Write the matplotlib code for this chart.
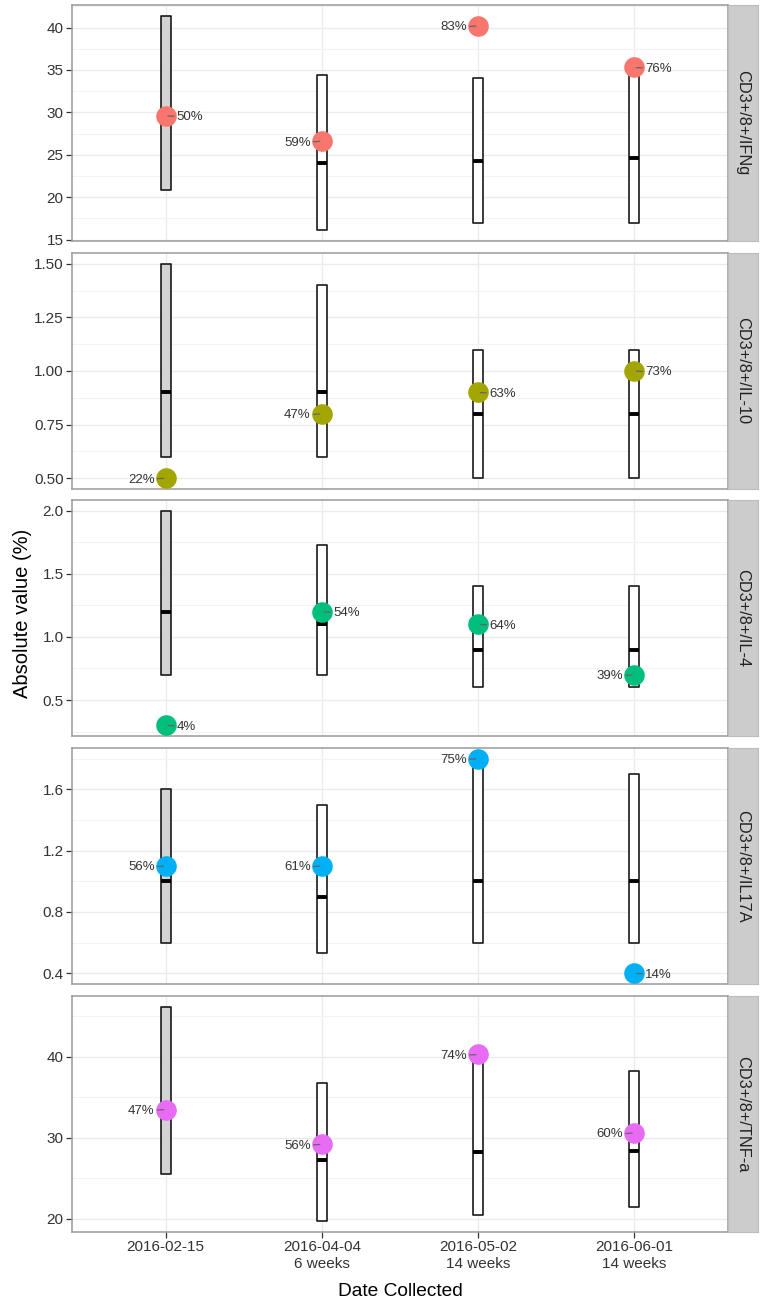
import matplotlib
matplotlib.use("Agg")
import matplotlib.pyplot as plt
from matplotlib.patches import Rectangle
from matplotlib.ticker import MultipleLocator, FormatStrFormatter
import numpy as np

plt.rcParams['font.family'] = ['Liberation Sans', 'DejaVu Sans']

# ---------------- data ----------------
dates = ["2016-02-15", "2016-04-04\n6 weeks", "2016-05-02\n14 weeks", "2016-06-01\n14 weeks"]
markers = ["CD3+/8+/IFNg", "CD3+/8+/IL-10", "CD3+/8+/IL-4", "CD3+/8+/IL17A", "CD3+/8+/TNF-a"]

ifng_low = [20.9, 16.1, 17.0, 17.0]
ifng_high = [41.4, 34.4, 34.1, 35.0]
ifng_med = [29.6, 24.0, 24.3, 24.6]
ifng_val = [29.6, 26.6, 40.2, 35.3]
ifng_pct = ["50%", "59%", "83%", "76%"]

il10_low = [0.6, 0.6, 0.5, 0.5]
il10_high = [1.5, 1.4, 1.1, 1.1]
il10_med = [0.9, 0.9, 0.8, 0.8]
il10_val = [0.5, 0.8, 0.9, 1.0]
il10_pct = ["22%", "47%", "63%", "73%"]

il4_low = [0.7, 0.7, 0.6, 0.6]
il4_high = [2.0, 1.73, 1.4, 1.4]
il4_med = [1.2, 1.1, 0.9, 0.9]
il4_val = [0.3, 1.2, 1.1, 0.7]
il4_pct = ["4%", "54%", "64%", "39%"]

il17_low = [0.6, 0.53, 0.6, 0.6]
il17_high = [1.6, 1.5, 1.79, 1.7]
il17_med = [1.0, 0.9, 1.0, 1.0]
il17_val = [1.1, 1.1, 1.8, 0.4]
il17_pct = ["56%", "61%", "75%", "14%"]

tnf_low = [25.6, 19.7, 20.5, 21.5]
tnf_high = [46.2, 36.8, 41.1, 38.2]
tnf_med = [33.5, 27.3, 28.2, 28.4]
tnf_val = [33.5, 29.2, 40.3, 30.6]
tnf_pct = ["47%", "56%", "74%", "60%"]

# ---------------- layout / style ----------------
colors = ["#F8766D", "#A3A500", "#00BF7D", "#00B0F6", "#E76BF3"]
label_side = [
    ["r", "l", "l", "r"],
    ["l", "l", "r", "r"],
    ["r", "r", "r", "l"],
    ["l", "l", "l", "r"],
    ["l", "l", "l", "l"],
]
major_steps = [5, 0.25, 0.5, 0.4, 10]
fmts = ["%d", "%.2f", "%.1f", "%.1f", "%d"]

panels = [
    (ifng_low, ifng_high, ifng_med, ifng_val, ifng_pct),
    (il10_low, il10_high, il10_med, il10_val, il10_pct),
    (il4_low, il4_high, il4_med, il4_val, il4_pct),
    (il17_low, il17_high, il17_med, il17_val, il17_pct),
    (tnf_low, tnf_high, tnf_med, tnf_val, tnf_pct),
]

W, H = 767, 1304
fig = plt.figure(figsize=(W / 100, H / 100), dpi=100)

left_px, right_px, strip_w = 72, 728, 30
tops = [5, 253, 500, 748, 996]
ph = 236
xpos = np.arange(1, len(dates) + 1)
bw = 0.066
grid_c = "#EBEBEB"
border_c = "#9A9A9A"
text_c = "#333333"

for i, (lo, hi, med, val, pct) in enumerate(panels):
    top = tops[i]
    ax = fig.add_axes([left_px / W, 1 - (top + ph) / H, (right_px - left_px) / W, ph / H])
    for j, x in enumerate(xpos):
        fc = "#D3D3D3" if j == 0 else "white"
        ax.add_patch(Rectangle((x - bw / 2, lo[j]), bw, hi[j] - lo[j], facecolor=fc,
                               edgecolor="#1a1a1a", lw=1.2, zorder=2, joinstyle="round"))
        ax.plot([x - bw / 2, x + bw / 2], [med[j], med[j]], color="black", lw=2.8,
                solid_capstyle="butt", zorder=3)
    ax.scatter(xpos, val, s=220, color=colors[i], zorder=4, linewidths=0)
    for j, x in enumerate(xpos):
        side = label_side[i][j]
        off = 8 if side == "r" else -8
        ax.annotate(pct[j], xy=(x, val[j]), xytext=(off, -1), textcoords="offset points",
                    ha="left" if side == "r" else "right", va="center", fontsize=9.5,
                    color=text_c, zorder=5,
                    arrowprops=dict(arrowstyle="-", color="#666666", lw=0.9,
                                    shrinkA=0, shrinkB=1.5))
    dmin = min(min(lo), min(val))
    dmax = max(max(hi), max(val))
    r = dmax - dmin
    ax.set_ylim(dmin - 0.05 * r, dmax + 0.05 * r)
    ax.set_xlim(0.4, 4.6)
    st = major_steps[i]
    ax.yaxis.set_major_locator(MultipleLocator(st))
    ax.yaxis.set_minor_locator(MultipleLocator(st / 2))
    ax.yaxis.set_major_formatter(FormatStrFormatter(fmts[i]))
    ax.set_xticks(xpos)
    ax.grid(True, which="major", color=grid_c, lw=1.0, zorder=0)
    ax.grid(True, which="minor", axis="y", color="#F3F3F3", lw=0.8, zorder=0)
    ax.set_axisbelow(True)
    for sp in ax.spines.values():
        sp.set_color(border_c)
        sp.set_linewidth(1.1)
    ax.tick_params(axis="y", which="major", length=4, width=0.9, color="#333333",
                   labelsize=11, labelcolor=text_c, pad=2)
    ax.tick_params(axis="y", which="minor", length=0)
    if i < 4:
        ax.tick_params(axis="x", length=0, labelbottom=False)
    else:
        ax.set_xticklabels(dates)
        ax.tick_params(axis="x", length=4, width=0.9, color="#333333",
                       labelsize=11, labelcolor=text_c, pad=2)
        for t in ax.get_xticklabels():
            t.set_linespacing(1.2)
    sax = fig.add_axes([right_px / W, 1 - (top + ph) / H, strip_w / W, ph / H])
    sax.set_facecolor("#CCCCCC")
    sax.set_xticks([])
    sax.set_yticks([])
    for sp in sax.spines.values():
        sp.set_color("#BBBBBB")
    sax.text(0.5, 0.5, markers[i], rotation=-90, ha="center", va="center",
             fontsize=11.8, color="#222222", transform=sax.transAxes)

fig.text(23 / W, 1 - 613 / H, "Absolute value (%)", rotation=90, ha="center", va="center",
         fontsize=14.5, color="black")
fig.text((left_px + right_px) / 2 / W, 1 - 1292 / H, "Date Collected", ha="center",
         va="center", fontsize=13.8, color="black")

fig.savefig("out.png", dpi=100, facecolor="white")
